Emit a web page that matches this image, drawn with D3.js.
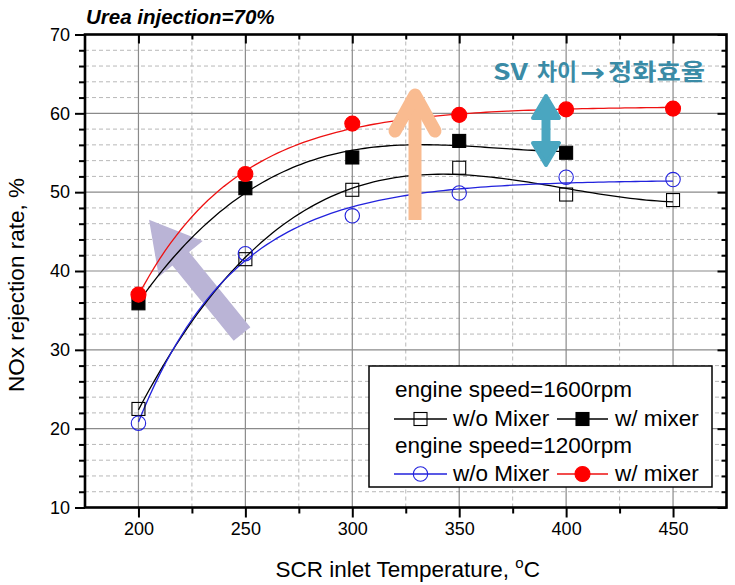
<!DOCTYPE html>
<html><head><meta charset="utf-8">
<script src="https://cdn.jsdelivr.net/npm/d3@7"></script>
<style>
html,body{margin:0;padding:0;background:#fff;}
svg{display:block;}
</style></head>
<body>
<script>
// ---- data ----
const temps = [200, 250, 300, 350, 400, 450];
const s1600woMixer = [22.5, 41.5, 50.3, 53.1, 49.7, 49.0];
const s1600wMixer  = [35.9, 50.5, 54.4, 56.5, 55.0];
const s1200woMixer = [20.7, 42.2, 47.0, 49.9, 51.9, 51.6];
const s1200wMixer  = [37.0, 52.3, 58.7, 59.8, 60.5, 60.6];
const xTicks = [200, 250, 300, 350, 400, 450];
const yTicks = [10, 20, 30, 40, 50, 60, 70];
const title = "Urea injection=70%";
const xTitle = "SCR inlet Temperature, ";
const yTitle = "NOx rejection rate, %";
const legendHeads = ["engine speed=1600rpm", "engine speed=1200rpm"];
const legendLabels = ["w/o Mixer", "w/ mixer"];
const noteParts = ["SV", "차이", "→", "정화효율"];

const SANS = "Arial, 'Liberation Sans', sans-serif";
const W = 735, H = 585;
const svg = d3.select("body").append("svg").attr("width", W).attr("height", H).style("font-family", SANS);
const x = d3.scaleLinear().domain([175, 475]).range([85, 726.5]);
const y = d3.scaleLinear().domain([10, 70]).range([507.5, 34.5]);
const X0 = x.range()[0], X1 = x.range()[1], Y0 = y.range()[0], Y1 = y.range()[1];

// ---- fits ----
function solve(A, b) {
  const n = b.length; A = A.map((r, i) => [...r, b[i]]);
  for (let i = 0; i < n; i++) {
    let p = i; for (let r = i + 1; r < n; r++) if (Math.abs(A[r][i]) > Math.abs(A[p][i])) p = r;
    [A[i], A[p]] = [A[p], A[i]];
    for (let r = 0; r < n; r++) if (r !== i) { const f = A[r][i] / A[i][i]; for (let c = i; c <= n; c++) A[r][c] -= f * A[i][c]; }
  }
  return A.map((r, i) => r[n] / r[i]);
}
function polyFit(xs, ys, deg) {
  const t = xs.map(v => (v - 200) / 50);
  const A = [], b = [];
  for (let i = 0; i <= deg; i++) { A.push([]); for (let j = 0; j <= deg; j++) A[i].push(d3.sum(t, v => Math.pow(v, i + j))); b.push(d3.sum(t, (v, k) => ys[k] * Math.pow(v, i))); }
  const c = solve(A, b);
  return xv => { const tv = (xv - 200) / 50; return d3.sum(c, (ci, i) => ci * Math.pow(tv, i)); };
}
function expFit(xs, ys) {
  let best = null;
  for (let k = 0.002; k < 0.2; k += 0.0005) {
    const e = xs.map(v => Math.exp(-k * (v - 200)));
    const n = xs.length, se = d3.sum(e), see = d3.sum(e, v => v * v), sy = d3.sum(ys), sey = d3.sum(e, (v, i) => v * ys[i]);
    const [a, b] = solve([[n, se], [se, see]], [sy, sey]);
    const sse = d3.sum(xs, (v, i) => Math.pow(a + b * e[i] - ys[i], 2));
    if (!best || sse < best.sse) best = { a, b, k, sse };
  }
  return xv => best.a + best.b * Math.exp(-best.k * (xv - 200));
}

// ---- grid ----
const g = svg.append("g");
const minorX = d3.range(225, 475, 50);
const minorY = d3.range(12, 70, 2).filter(v => v % 10 !== 0);
g.selectAll(".gmx").data(minorX).join("line").attr("x1", d => x(d)).attr("x2", d => x(d)).attr("y1", Y1).attr("y2", Y0)
  .attr("stroke", "#b8b8b8").attr("stroke-width", 1).attr("stroke-dasharray", "4,3");
g.selectAll(".gmy").data(minorY).join("line").attr("y1", d => y(d)).attr("y2", d => y(d)).attr("x1", X0).attr("x2", X1)
  .attr("stroke", "#b8b8b8").attr("stroke-width", 1).attr("stroke-dasharray", "4,3");
g.selectAll(".gMx").data(xTicks).join("line").attr("x1", d => x(d)).attr("x2", d => x(d)).attr("y1", Y1).attr("y2", Y0)
  .attr("stroke", "#8a8a8a").attr("stroke-width", 1.2);
g.selectAll(".gMy").data(yTicks.slice(1, -1)).join("line").attr("y1", d => y(d)).attr("y2", d => y(d)).attr("x1", X0).attr("x2", X1)
  .attr("stroke", "#8a8a8a").attr("stroke-width", 1.2);

// ---- purple arrow (behind curves) ----
function arrowPoly(x1, y1, x2, y2, sw, hw, hl) {
  const dx = x2 - x1, dy = y2 - y1, L = Math.hypot(dx, dy), ux = dx / L, uy = dy / L, px = -uy, py = ux;
  const bx = x2 - ux * hl, by = y2 - uy * hl;
  return [[x1 + px * sw, y1 + py * sw], [bx + px * sw, by + py * sw], [bx + px * hw, by + py * hw], [x2, y2],
          [bx - px * hw, by - py * hw], [bx - px * sw, by - py * sw], [x1 - px * sw, y1 - py * sw]];
}
svg.append("path").attr("d", d3.line()(arrowPoly(242, 334, 150, 221, 10, 27, 48)))
  .attr("fill", "#bab4d6").attr("stroke", "#bab4d6").attr("stroke-width", 1.5).attr("stroke-linejoin", "miter");

// ---- curves ----
const series = [
  { vals: s1600woMixer, color: "#000000", fit: polyFit(temps, s1600woMixer, 3), marker: "square", filled: false },
  { vals: s1600wMixer, color: "#000000", fit: polyFit(temps.slice(0, s1600wMixer.length), s1600wMixer, 3), marker: "square", filled: true },
  { vals: s1200woMixer, color: "#2222dd", fit: expFit(temps, s1200woMixer), marker: "circle", filled: false },
  { vals: s1200wMixer, color: "#ee1111", fit: expFit(temps, s1200wMixer), marker: "circle", filled: true },
];
const line = d3.line().x(d => x(d[0])).y(d => y(d[1]));
series.forEach(s => {
  const xs = temps.slice(0, s.vals.length);
  const pts = d3.range(0, 101).map(i => { const xv = xs[0] + (xs[xs.length - 1] - xs[0]) * i / 100; return [xv, s.fit(xv)]; });
  svg.append("path").attr("d", line(pts)).attr("fill", "none").attr("stroke", s.color).attr("stroke-width", 1.3);
});
function drawMarker(sel, s, cx, cy) {
  if (s.marker === "square") {
    sel.append("rect").attr("x", cx - 6.5).attr("y", cy - 6.5).attr("width", 13).attr("height", 13)
      .attr("fill", s.filled ? "#000" : "none").attr("stroke", "#000").attr("stroke-width", 1.1);
  } else {
    sel.append("circle").attr("cx", cx).attr("cy", cy).attr("r", s.filled ? 7.5 : 7.2)
      .attr("fill", s.filled ? "#ff0000" : "none").attr("stroke", s.filled ? "#ff0000" : "#2222dd").attr("stroke-width", 1.1);
  }
}
series.forEach(s => {
  const gm = svg.append("g");
  s.vals.forEach((v, i) => drawMarker(gm, s, x(temps[i]), y(v)));
});

// ---- axes ----
const ax = svg.append("g");
function styleAxis(sel) { sel.select(".domain").remove(); sel.selectAll("line").attr("stroke", "#000").attr("stroke-width", 2); }
ax.append("g").attr("transform", `translate(0,${Y0})`).call(d3.axisBottom(x).tickValues(xTicks).tickSize(10).tickPadding(5).tickFormat(d3.format("d")))
  .call(styleAxis).call(s => s.selectAll("text").attr("font-size", 18).attr("fill", "#000").style("font-family", SANS));
ax.append("g").attr("transform", `translate(0,${Y0})`).call(d3.axisBottom(x).tickValues(minorX).tickSize(6).tickFormat("")).call(styleAxis);
ax.append("g").attr("transform", `translate(0,${Y1})`).call(d3.axisBottom(x).tickValues(xTicks).tickSize(9).tickFormat("")).call(styleAxis);
ax.append("g").attr("transform", `translate(0,${Y1})`).call(d3.axisBottom(x).tickValues(minorX).tickSize(5).tickFormat("")).call(styleAxis);
ax.append("g").attr("transform", `translate(${X0},0)`).call(d3.axisLeft(y).tickValues(yTicks).tickSize(10).tickPadding(5).tickFormat(d3.format("d")))
  .call(styleAxis).call(s => s.selectAll("text").attr("font-size", 18).attr("fill", "#000").style("font-family", SANS));
ax.append("g").attr("transform", `translate(${X0},0)`).call(d3.axisLeft(y).tickValues(minorY).tickSize(6).tickFormat("")).call(styleAxis);
ax.append("g").attr("transform", `translate(${X1},0)`).call(d3.axisLeft(y).tickValues(yTicks).tickSize(9).tickFormat("")).call(styleAxis);
ax.append("g").attr("transform", `translate(${X1},0)`).call(d3.axisLeft(y).tickValues(minorY).tickSize(5).tickFormat("")).call(styleAxis);
ax.append("rect").attr("x", X0).attr("y", Y1).attr("width", X1 - X0).attr("height", Y0 - Y1)
  .attr("fill", "none").attr("stroke", "#000").attr("stroke-width", 2.6);

// ---- titles ----
svg.append("text").attr("x", 86).attr("y", 24).attr("font-size", 20.5).attr("font-weight", "bold").attr("font-style", "italic").text(title);
const xt = svg.append("text").attr("x", (X0 + X1) / 2 + 2).attr("y", 577).attr("text-anchor", "middle").attr("font-size", 22.5);
xt.append("tspan").text(xTitle);
xt.append("tspan").attr("font-size", 15).attr("dy", -9).text("o");
xt.append("tspan").attr("dy", 9).text("C");
svg.append("text").attr("transform", "translate(24,285) rotate(-90)").attr("text-anchor", "middle").attr("font-size", 22.5).text(yTitle);

// ---- legend ----
const lg = svg.append("g");
lg.append("rect").attr("x", 369).attr("y", 366).attr("width", 343).attr("height", 121).attr("fill", "#fff").attr("stroke", "#000").attr("stroke-width", 1.5);
const rows = [
  { head: legendHeads[0], hy: 397, my: 419, ty: 426, s: [series[0], series[1]] },
  { head: legendHeads[1], hy: 453, my: 474, ty: 481, s: [series[2], series[3]] },
];
rows.forEach(r => {
  lg.append("text").attr("x", 395).attr("y", r.hy).attr("font-size", 22.5).text(r.head);
  [[394, 447, 453], [557, 608, 615]].forEach((p, i) => {
    const s = r.s[i];
    lg.append("line").attr("x1", p[0]).attr("x2", p[1]).attr("y1", r.my).attr("y2", r.my).attr("stroke", s.color).attr("stroke-width", 1.3);
    drawMarker(lg, s, (p[0] + p[1]) / 2, r.my);
    lg.append("text").attr("x", p[2]).attr("y", r.ty).attr("font-size", 22.5).text(legendLabels[i]);
  });
});

// ---- orange arrow (on top) ----
const oa = svg.append("g").attr("stroke", "#f9bb90").attr("fill", "none").attr("stroke-width", 13);
oa.append("line").attr("x1", 415).attr("x2", 415).attr("y1", 220).attr("y2", 96);
oa.append("path").attr("d", d3.line()([[395, 131], [415, 95], [435, 131]])).attr("stroke-linecap", "round").attr("stroke-linejoin", "round");

// ---- teal double arrow ----
const tc = "#4aa6c0";
svg.append("line").attr("x1", 546).attr("x2", 546).attr("y1", 110).attr("y2", 152).attr("stroke", tc).attr("stroke-width", 9);
svg.append("path").attr("d", d3.line()([[546, 96], [559, 118], [533, 118]]) + "Z").attr("fill", tc).attr("stroke", tc).attr("stroke-width", 4).attr("stroke-linejoin", "round");
svg.append("path").attr("d", d3.line()([[546, 165], [559, 143], [533, 143]]) + "Z").attr("fill", tc).attr("stroke", tc).attr("stroke-width", 4).attr("stroke-linejoin", "round");
const noteCol = "#3a8ba6";
const CJK = "'Noto Sans CJK KR', sans-serif";
const noteSpec = [
  { x: 493, y: 80, fs: 23, len: 35, fam: CJK },
  { x: 537, y: 80, fs: 23, len: 40, fam: CJK },
  { x: 580, y: 81, fs: 24, len: 25, fam: "'DejaVu Sans', sans-serif" },
  { x: 608, y: 80, fs: 23, len: 97, fam: CJK },
];
noteParts.forEach((t, i) => {
  svg.append("text").attr("x", noteSpec[i].x).attr("y", noteSpec[i].y).attr("font-size", noteSpec[i].fs).attr("font-weight", "bold")
    .style("font-family", noteSpec[i].fam).attr("fill", noteCol)
    .attr("textLength", noteSpec[i].len).attr("lengthAdjust", "spacingAndGlyphs").text(t);
});
</script>
</body></html>
